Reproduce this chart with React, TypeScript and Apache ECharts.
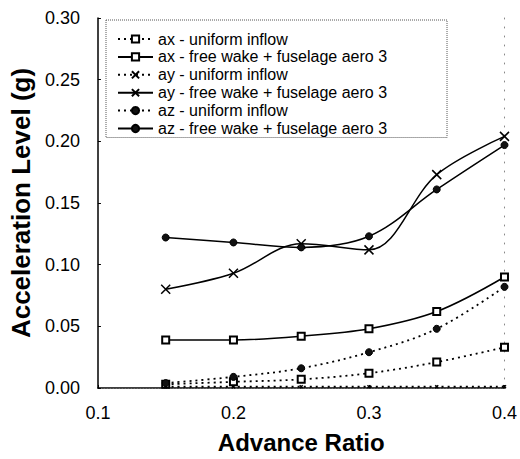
import React, { useEffect, useRef } from "react";
import * as echarts from "echarts";

const advanceRatio = [0.15, 0.2, 0.25, 0.3, 0.35, 0.4];
const axUniform = [0.003, 0.005, 0.007, 0.012, 0.021, 0.033];
const axFreeWake = [0.039, 0.039, 0.042, 0.048, 0.062, 0.09];
const ayUniform = [0.001, 0.001, 0.001, 0.001, 0.001, 0.001];
const ayFreeWake = [0.08, 0.093, 0.117, 0.112, 0.173, 0.204];
const azUniform = [0.004, 0.009, 0.016, 0.029, 0.048, 0.082];
const azFreeWake = [0.122, 0.118, 0.114, 0.123, 0.161, 0.197];

const seriesNames = [
  "ax - uniform inflow",
  "ax - free wake + fuselage aero 3",
  "ay - uniform inflow",
  "ay - free wake + fuselage aero 3",
  "az - uniform inflow",
  "az - free wake + fuselage aero 3",
];

const FONT = "Arial, 'Liberation Sans', Helvetica, sans-serif";
const CROSS = "path://M0,0L10,10M10,0L0,10";

export default function App() {
  const ref = useRef<HTMLDivElement>(null);
  useEffect(() => {
    if (!ref.current) return;
    const chart = echarts.init(ref.current, null, { renderer: "svg" });
    const pair = (vals: number[], pointSize?: number) =>
      advanceRatio.map((x, i) =>
        pointSize ? { value: [x, vals[i]], symbolSize: pointSize } : [x, vals[i]]
      );
    const mk = (
      name: string,
      vals: number[],
      dotted: boolean,
      kind: "sq" | "x" | "dot",
      pointSize?: number
    ) => {
      let symbol = "emptyRect";
      let symbolSize: number = 7;
      let itemStyle: any = { color: "#000", borderColor: "#000", borderWidth: 1.3 };
      if (kind === "x") {
        symbol = CROSS;
        symbolSize = 9;
        itemStyle = { color: "none", borderColor: "#000", borderWidth: 1.5 };
      } else if (kind === "dot") {
        symbol = "circle";
        symbolSize = 7;
        itemStyle = { color: "#111", borderColor: "#000", borderWidth: 1 };
      }
      return {
        name,
        type: "line",
        data: pair(vals, pointSize),
        smooth: 0.35,
        symbol,
        symbolSize,
        showAllSymbol: true,
        itemStyle,
        lineStyle: dotted
          ? { color: "#000", width: 1.8, type: [2, 4] }
          : { color: "#000", width: 1.5, type: "solid" },
        z: 3,
      };
    };
    chart.setOption({
      animation: false,
      backgroundColor: "#fff",
      textStyle: { fontFamily: FONT, color: "#000" },
      grid: { left: 90, right: 14, top: 18, bottom: 69, containLabel: false },
      legend: {
        data: seriesNames,
        orient: "vertical",
        left: 106,
        top: 20,
        itemGap: 1.9,
        itemWidth: 35,
        itemHeight: 9,
        padding: [11, 60, 1, 11],
        borderColor: "#555",
        borderWidth: 1,
        borderType: "dotted",
        backgroundColor: "#fff",
        textStyle: { fontFamily: FONT, fontSize: 16, color: "#000" },
      },
      xAxis: [
        {
          type: "value",
          min: 0.1,
          max: 0.4,
          interval: 0.1,
          name: "Advance Ratio",
          nameLocation: "middle",
          nameGap: 42,
          nameTextStyle: { fontFamily: FONT, fontWeight: "bold", fontSize: 24, color: "#000" },
          axisLine: { show: true, lineStyle: { color: "#000", width: 1.5 } },
          axisTick: { show: true, inside: true, length: 3, lineStyle: { color: "#000" } },
          axisLabel: {
            fontFamily: FONT,
            fontSize: 18,
            color: "#000",
            margin: 16,
            formatter: (v: number) => v.toFixed(1),
          },
          splitLine: { show: false },
        },
        {
          type: "value",
          position: "top",
          min: 0.1,
          max: 0.4,
          interval: 0.1,
          axisLine: { show: true, lineStyle: { color: "#666", width: 1, type: [1, 2] } },
          axisTick: { show: false },
          axisLabel: { show: false },
          splitLine: { show: false },
        },
      ],
      yAxis: [
        {
          type: "value",
          min: 0,
          max: 0.3,
          interval: 0.05,
          name: "Acceleration Level (g)",
          nameLocation: "middle",
          nameGap: 46,
          nameTextStyle: { fontFamily: FONT, fontWeight: "bold", fontSize: 26, color: "#000" },
          axisLine: { show: true, lineStyle: { color: "#000", width: 1.5 } },
          axisTick: { show: true, inside: true, length: 3, lineStyle: { color: "#000" } },
          axisLabel: {
            fontFamily: FONT,
            fontSize: 18,
            color: "#000",
            margin: 18,
            formatter: (v: number) => v.toFixed(2),
          },
          splitLine: { show: false },
        },
        {
          type: "value",
          position: "right",
          min: 0,
          max: 0.3,
          interval: 0.05,
          axisLine: { show: true, lineStyle: { color: "#888", width: 1, type: [1, 8] } },
          axisTick: { show: false },
          axisLabel: { show: false },
          splitLine: { show: false },
        },
      ],
      series: [
        mk(seriesNames[0], axUniform, true, "sq"),
        mk(seriesNames[1], axFreeWake, false, "sq"),
        mk(seriesNames[2], ayUniform, true, "x", 3),
        mk(seriesNames[3], ayFreeWake, false, "x"),
        mk(seriesNames[4], azUniform, true, "dot"),
        mk(seriesNames[5], azFreeWake, false, "dot"),
      ],
    });
    return () => chart.dispose();
  }, []);
  return (
    <div
      ref={ref}
      style={{ position: "fixed", left: 0, top: 0, width: 520, height: 459, background: "#fff" }}
    />
  );
}
